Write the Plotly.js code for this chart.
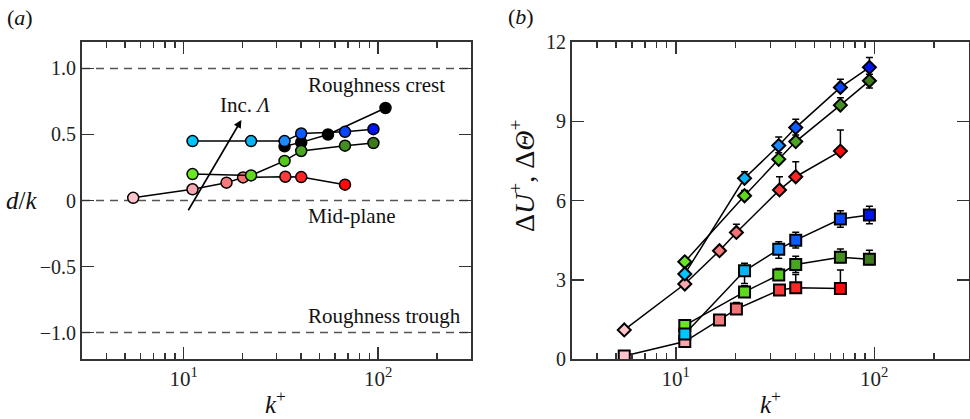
<!DOCTYPE html>
<html>
<head>
<meta charset="utf-8">
<script src="https://cdn.plot.ly/plotly-3.0.1.min.js"></script>
<style>html,body{margin:0;padding:0;background:#fff;}#chart{width:970px;height:419px;}</style>
</head>
<body>
<div id="chart"></div>
<script>
// ---------- shared k+ values ----------
const kRed   = [5.5, 11.1, 16.6, 20.2, 33.3, 40.2, 67.5];
const kGreen = [11.1, 22.2, 33.0, 40.2, 67.5, 94.5];
const kBlue  = [11.1, 22.2, 33.0, 40.2, 67.5, 94.5];
const kBlack = [33.0, 40.2, 55.2, 109];

// ---------- panel (a): d/k ----------
const dRed   = [0.02, 0.085, 0.135, 0.175, 0.18, 0.177, 0.12];
const dGreen = [0.20, 0.19, 0.30, 0.375, 0.415, 0.435];
const dBlue  = [0.45, 0.45, 0.45, 0.507, 0.52, 0.54];
const dBlack = [0.41, 0.44, 0.50, 0.70];

// ---------- panel (b): ΔU+ (diamonds) ----------
const dURed     = [1.10, 2.84, 4.10, 4.79, 6.40, 6.90, 7.87];
const dURedUp   = [0, 0.08, 0.15, 0.31, 0.50, 0.57, 0.80];
const dUGreen   = [3.68, 6.18, 7.56, 8.23, 9.61, 10.53];
const dUGreenUp = [0.08, 0.20, 0.25, 0.25, 0.28, 0.25];
const dUGreenDn = [0, 0, 0, 0, 0, 0.27];
const dUBlue    = [3.22, 6.84, 8.08, 8.76, 10.28, 11.04];
const dUBlueUp  = [0.08, 0.25, 0.32, 0.32, 0.31, 0.37];

// ---------- panel (b): ΔΘ+ (squares) ----------
const dTRed     = [0.11, 0.66, 1.48, 1.89, 2.61, 2.70, 2.67];
const dTRedUp   = [0, 0, 0.15, 0.25, 0.10, 0.50, 0.70];
const dTGreen   = [1.27, 2.54, 3.18, 3.58, 3.85, 3.78];
const dTGreenUp = [0.05, 0.23, 0.25, 0.31, 0.31, 0.34];
const dTGreenDn = [0, 0.10, 0.10, 0.31, 0.20, 0.20];
const dTBlue    = [0.95, 3.34, 4.15, 4.50, 5.30, 5.45];
const dTBlueUp  = [0.05, 0.28, 0.29, 0.30, 0.31, 0.33];
const dTBlueDn  = [0.05, 0.48, 0.34, 0.30, 0.31, 0.33];

// ---------- per-point colours ----------
const redColors   = ['#ffc4cc', '#f9a7b0', '#f47c7e', '#f47476', '#ff3a3a', '#ff2626', '#ff0a0a'];
const greenColors = ['#6ae622', '#5fd81e', '#55c81e', '#4aa522', '#458f22', '#3d7a1e'];
const blueColors  = ['#00c6ff', '#08b4f5', '#1a8cff', '#0a5cff', '#0a46ff', '#0014ee'];
const blackColors = ['#000000', '#000000', '#000000', '#000000'];

// ---------- ticks / reference lines ----------
const xMajor = [10, 100];
const xMajorText = ['10<sup>1</sup>', '10<sup>2</sup>'];
const xMinor = [4, 5, 6, 7, 8, 9, 20, 30, 40, 50, 60, 70, 80, 90, 200];
const yATicks = [1, 0.5, 0, -0.5, -1];
const yATickText = ['1.0', '0.5', '0', '\u22120.5', '\u22121.0'];
const yBTicks = [0, 3, 6, 9, 12];
const yBTickText = ['0', '3', '6', '9', '12'];
const refLines = [1, 0, -1];

const FONT = 'Liberation Serif';
const lineStyle = {color: '#000', width: 1.5};

function circ(x, y, colors, xa, ya) {
  return {x: x, y: y, xaxis: xa, yaxis: ya, type: 'scatter', mode: 'lines+markers',
    line: lineStyle, hoverinfo: 'skip',
    marker: {symbol: 'circle', size: 11, color: colors, line: {color: '#000', width: 1.5}}};
}
function errTrace(x, y, up, dn, colors, sym, size) {
  return {x: x, y: y, xaxis: 'x2', yaxis: 'y2', type: 'scatter', mode: 'lines+markers',
    line: lineStyle, hoverinfo: 'skip',
    error_y: {type: 'data', symmetric: false, array: up, arrayminus: dn || up.map(() => 0),
      color: '#000', thickness: 1.5, width: 3.5},
    marker: {symbol: sym, size: size, color: colors, line: {color: '#000', width: 2}}};
}

const data = [
  circ(kBlack, dBlack, blackColors, 'x', 'y'),
  circ(kRed, dRed, redColors, 'x', 'y'),
  circ(kGreen, dGreen, greenColors, 'x', 'y'),
  circ(kBlue, dBlue, blueColors, 'x', 'y'),
  errTrace(kRed, dTRed, dTRedUp, null, redColors, 'square', 11),
  errTrace(kGreen, dTGreen, dTGreenUp, dTGreenDn, greenColors, 'square', 11),
  errTrace(kBlue, dTBlue, dTBlueUp, dTBlueDn, blueColors, 'square', 11),
  errTrace(kRed, dURed, dURedUp, null, redColors, 'diamond', 10),
  errTrace(kGreen, dUGreen, dUGreenUp, dUGreenDn, greenColors, 'diamond', 10),
  errTrace(kBlue, dUBlue, dUBlueUp, null, blueColors, 'diamond', 10)
];

const axCommon = {
  showgrid: false, zeroline: false, showline: true, mirror: 'allticks',
  linecolor: '#333', linewidth: 2, ticks: 'inside', ticklen: 12, tickwidth: 1.5,
  tickcolor: '#333', tickfont: {family: FONT, size: 21, color: '#222'}
};
const xCommon = Object.assign({}, axCommon, {
  type: 'log', range: [Math.log10(3), Math.log10(300)],
  tickmode: 'array', tickvals: xMajor, ticktext: xMajorText,
  minor: {tickmode: 'array', tickvals: xMinor, ticks: 'inside', ticklen: 6, tickwidth: 1.5, tickcolor: '#333', showgrid: false}
});

const shapes = refLines.map(v => ({
  type: 'line', xref: 'x domain', yref: 'y', x0: 0, x1: 1, y0: v, y1: v,
  line: {color: '#555', width: 1.5, dash: '8px,6px'}, layer: 'below'
}));

const px2py = p => (359 - p) / 317;
const ann = (text, x, y, opts) => Object.assign({
  text: text, x: x, y: y, showarrow: false, xanchor: 'center', yanchor: 'middle',
  font: {family: FONT, size: 21, color: '#111'}
}, opts || {});
const big = {family: FONT, size: 25, color: '#111'};

const annotations = [
  ann('Roughness crest', Math.log10(42.5), 0.875, {xref: 'x', yref: 'y', xanchor: 'left'}),
  ann('Mid-plane', Math.log10(42.5), -0.117, {xref: 'x', yref: 'y', xanchor: 'left'}),
  ann('Roughness trough', Math.log10(42.5), -0.875, {xref: 'x', yref: 'y', xanchor: 'left'}),
  ann('Inc. <i>\u039B</i>', Math.log10(20.6), 0.72, {xref: 'x', yref: 'y'}),
  {x: Math.log10(19.8), y: 0.61, ax: Math.log10(10.45), ay: -0.085, xref: 'x', yref: 'y',
   axref: 'x', ayref: 'y', showarrow: true, arrowhead: 2, arrowsize: 1, arrowwidth: 1.6,
   arrowcolor: '#000', text: ''},
  ann('<i>d</i>/<i>k</i>', 21 / 970, px2py(200), {xref: 'paper', yref: 'paper', font: big}),
  ann('<i>k</i><sup>+</sup>', 275 / 970, px2py(402), {xref: 'paper', yref: 'paper', font: big}),
  ann('<i>k</i><sup>+</sup>', 770 / 970, px2py(402), {xref: 'paper', yref: 'paper', font: big}),
  ann('\u0394<i>U</i><sup>+</sup>, \u0394<i>\u0398</i><sup>+</sup>', 522 / 970, px2py(176),
      {xref: 'paper', yref: 'paper', textangle: -90, font: {family: FONT, size: 28, color: '#111'}}),
  ann('(<i>a</i>)', 20 / 970, px2py(17), {xref: 'paper', yref: 'paper', font: {family: FONT, size: 22, color: '#111'}}),
  ann('(<i>b</i>)', 521 / 970, px2py(16), {xref: 'paper', yref: 'paper', font: {family: FONT, size: 22, color: '#111'}})
];

const layout = {
  width: 970, height: 419,
  margin: {l: 0, r: 0, t: 42, b: 60, pad: 0},
  paper_bgcolor: '#fff', plot_bgcolor: '#fff',
  showlegend: false,
  font: {family: FONT, color: '#222'},
  xaxis: Object.assign({}, xCommon, {domain: [82 / 970, 471 / 970], anchor: 'y'}),
  yaxis: Object.assign({}, axCommon, {range: [-1.2, 1.2], tickmode: 'array', tickvals: yATicks, ticktext: yATickText,
    ticksuffix: '\u2009\u200A', anchor: 'x', tickfont: {family: FONT, size: 20, color: '#222'}}),
  xaxis2: Object.assign({}, xCommon, {domain: [572 / 970, 969 / 970], anchor: 'y2'}),
  yaxis2: Object.assign({}, axCommon, {range: [0, 12], tickmode: 'array', tickvals: yBTicks, ticktext: yBTickText,
    ticksuffix: '\u200A', anchor: 'x2', tickfont: {family: FONT, size: 20, color: '#222'}}),
  shapes: shapes,
  annotations: annotations
};

Plotly.newPlot('chart', data, layout, {staticPlot: true, displayModeBar: false});
</script>
</body>
</html>
